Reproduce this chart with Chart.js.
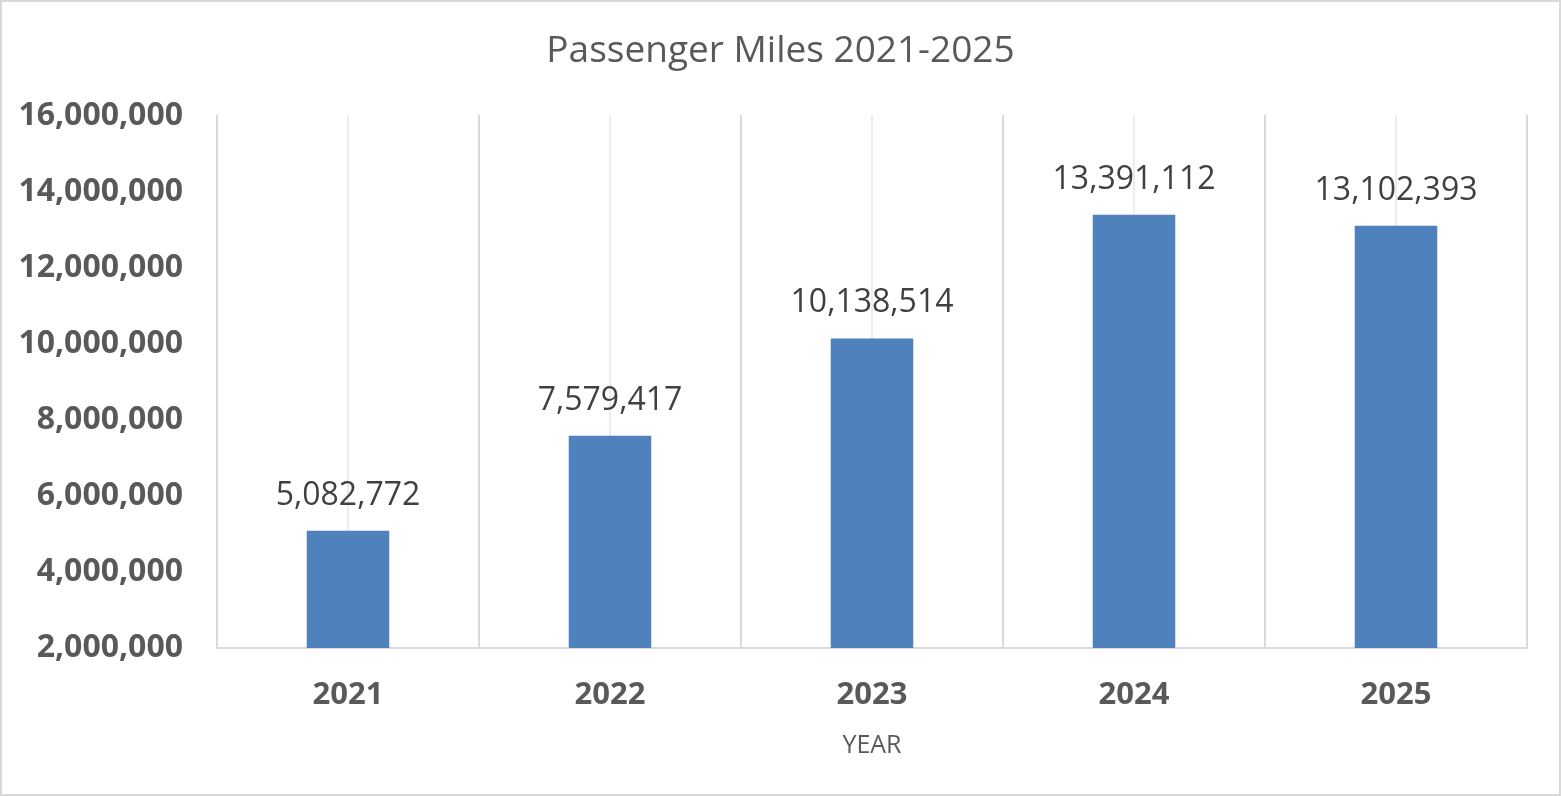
<!DOCTYPE html>
<html>
<head>
<meta charset="utf-8">
<script src="https://cdn.jsdelivr.net/npm/chart.js@4/dist/chart.umd.min.js"></script>
<style>
  html, body { margin: 0; padding: 0; background: #fff; }
  #wrap { position: relative; width: 1561px; height: 796px; }
  canvas { display: block; }
</style>
</head>
<body>
<div id="wrap"><canvas id="c"></canvas></div>
<script>
const categories = ['2021', '2022', '2023', '2024', '2025'];
const passengerMiles = [5082772, 7579417, 10138514, 13391112, 13102393];
const yTicks = [2000000, 4000000, 6000000, 8000000, 10000000, 12000000, 14000000, 16000000];
const gridPositions = [-0.5, 0, 0.5, 1, 1.5, 2, 2.5, 3, 3.5, 4, 4.5];

const fmt = v => Number(v).toLocaleString('en-US');
const FONT = "'Open Sans', 'Liberation Sans', sans-serif";

const frame = {
  id: 'frame',
  beforeDraw(chart) {
    const ctx = chart.ctx;
    ctx.save();
    ctx.fillStyle = '#fff';
    ctx.fillRect(0, 0, chart.width, chart.height);
    ctx.strokeStyle = '#d9d9d9';
    ctx.lineWidth = 2;
    ctx.strokeRect(1, 1, chart.width - 2, chart.height - 2);
    ctx.restore();
  }
};

const valueLabels = {
  id: 'valueLabels',
  afterDatasetsDraw(chart) {
    const ctx = chart.ctx;
    const meta = chart.getDatasetMeta(0);
    ctx.save();
    ctx.font = "32px " + FONT;
    ctx.fillStyle = '#404040';
    ctx.textAlign = 'center';
    ctx.textBaseline = 'middle';
    meta.data.forEach((bar, i) => {
      ctx.fillText(fmt(chart.data.datasets[0].data[i]), bar.x, bar.y - 35);
    });
    ctx.restore();
  }
};

new Chart(document.getElementById('c'), {
  type: 'bar',
  data: {
    labels: categories,
    datasets: [{
      label: 'Passenger Miles',
      data: passengerMiles,
      backgroundColor: '#4f81bd',
      borderWidth: 0,
      categoryPercentage: 1,
      barPercentage: 0.315
    }]
  },
  options: {
    responsive: true,
    maintainAspectRatio: false,
    animation: false,
    layout: { padding: 0 },
    plugins: {
      legend: { display: false },
      tooltip: { enabled: false },
      title: {
        display: true,
        text: 'Passenger Miles 2021-2025',
        color: '#595959',
        font: { family: FONT, size: 37, weight: 'normal' },
        padding: { top: 29, bottom: 42 }
      }
    },
    scales: {
      x: {
        type: 'category',
        position: 'bottom',
        grid: { display: false, drawTicks: false },
        border: { display: true, color: '#d9d9d9', width: 2 },
        ticks: {
          color: '#595959',
          font: { family: FONT, size: 31, weight: 'bold' },
          padding: 29
        },
        title: {
          display: true,
          text: 'YEAR',
          color: '#595959',
          font: { family: FONT, size: 25, weight: 'normal' },
          padding: { top: 10, bottom: 35 }
        },
        afterFit(s) { s.height = 148; }
      },
      xg: {
        type: 'linear',
        position: 'top',
        min: -0.5,
        max: 4.5,
        offset: false,
        afterBuildTicks(s) { s.ticks = gridPositions.map(v => ({ value: v })); },
        ticks: { display: false },
        grid: {
          offset: false,
          drawTicks: false,
          lineWidth: 2,
          color: c => {
            const v = c && c.tick ? c.tick.value : 0;
            return Math.abs(Math.abs(v % 1) - 0.5) < 1e-6 ? '#d9d9d9' : '#ececec';
          }
        },
        border: { display: false },
        afterFit(s) { s.height = 0; }
      },
      y: {
        type: 'linear',
        position: 'left',
        min: 2000000,
        max: 16000000,
        afterBuildTicks(s) { s.ticks = yTicks.map(v => ({ value: v })); },
        ticks: {
          color: '#595959',
          font: { family: FONT, size: 32, weight: 'bold' },
          padding: 34,
          callback: v => fmt(v)
        },
        grid: { display: false, drawTicks: false },
        border: { display: false },
        afterFit(s) { s.width = 217; }
      },
      yr: {
        type: 'linear',
        position: 'right',
        ticks: { display: false },
        grid: { display: false, drawTicks: false },
        border: { display: false },
        afterFit(s) { s.width = 34; }
      }
    }
  },
  plugins: [frame, valueLabels]
});
</script>
</body>
</html>
